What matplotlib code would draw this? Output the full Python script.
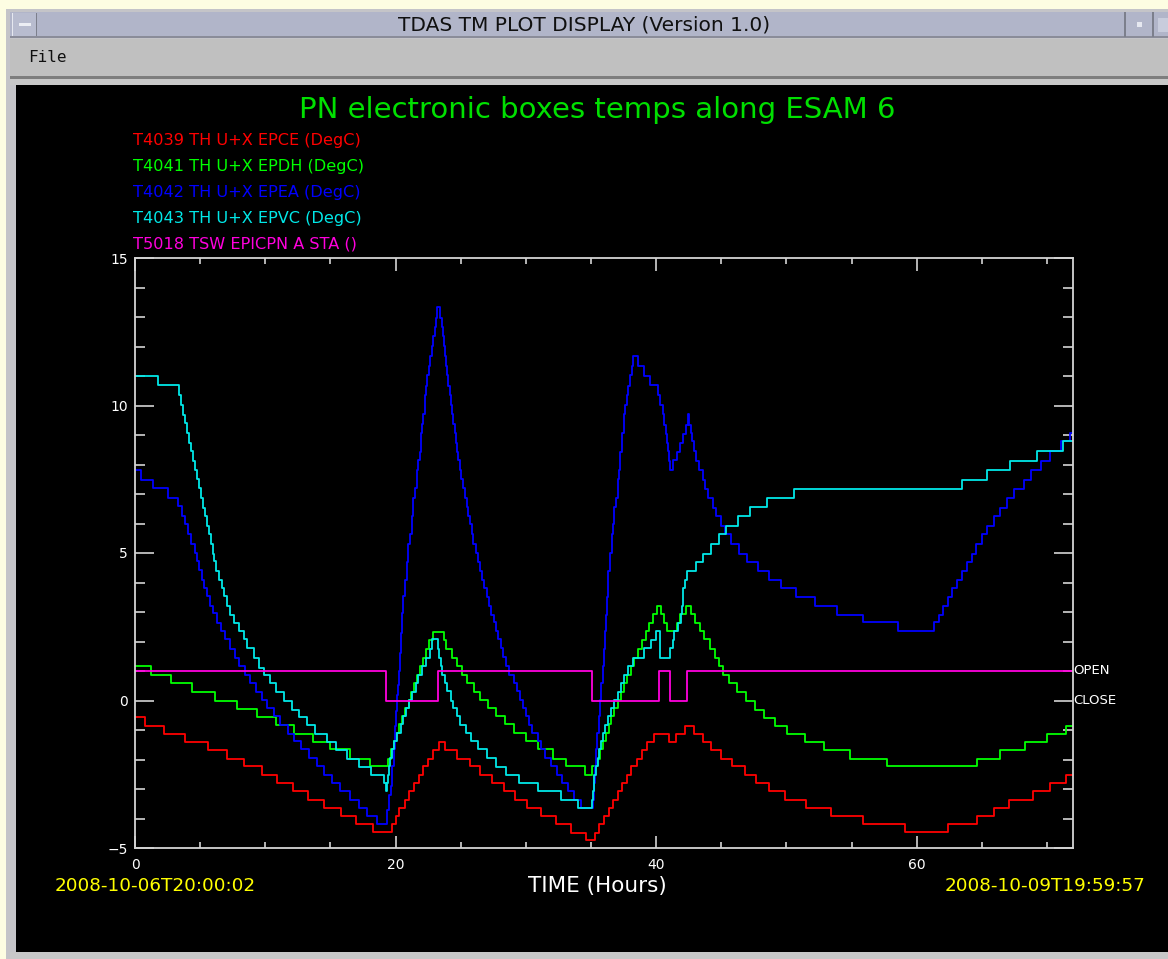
import matplotlib
matplotlib.use("Agg")
import matplotlib.pyplot as plt
from matplotlib.patches import Rectangle
from matplotlib.ticker import MultipleLocator

# ---------------- data (hours, degC) ----------------
red_t = [0, 0.8, 2.25, 3.85, 5.6, 7.05, 8.4, 9.75, 10.9, 12.1, 13.3, 14.5, 15.8, 17.0, 18.3,
         19.7, 20.0, 20.3, 20.7, 21.05, 21.4, 21.8, 22.1, 22.5, 22.9, 23.3,
         23.8, 24.7, 25.7, 26.5, 27.4, 28.3, 29.2, 30.1, 31.2, 32.3, 33.5, 34.6,
         35.3, 35.6, 36.0, 36.4, 36.7, 37.1, 37.4, 37.8, 38.1, 38.5, 38.9, 39.3, 39.8,
         40.97, 41.5, 42.2, 42.9, 43.6, 44.2, 45.0, 45.8, 46.8, 47.7, 48.7, 49.9, 51.5, 53.4, 55.9, 59.1,
         62.4, 64.6, 65.9, 67.05, 68.9, 70.2, 71.5, 72]
red_v = [-0.55, -0.85, -1.14, -1.39, -1.68, -1.98, -2.23, -2.51, -2.81, -3.06, -3.36, -3.65, -3.90, -4.18, -4.47,
         -4.20, -3.92, -3.65, -3.36, -3.06, -2.79, -2.52, -2.23, -1.97, -1.68, -1.40,
         -1.68, -1.97, -2.23, -2.52, -2.79, -3.06, -3.36, -3.65, -3.92, -4.20, -4.49, -4.72,
         -4.49, -4.20, -3.92, -3.65, -3.36, -3.06, -2.79, -2.52, -2.23, -1.97, -1.68, -1.40, -1.13,
         -1.40, -1.13, -0.85, -1.13, -1.40, -1.68, -1.98, -2.23, -2.53, -2.79, -3.07, -3.36, -3.64, -3.90, -4.18, -4.46,
         -4.18, -3.90, -3.64, -3.36, -3.07, -2.79, -2.53, -2.53]

green_t = [0, 1.2, 2.8, 4.35, 6.15, 7.8, 9.4, 10.8, 12.2, 13.7, 15.0, 16.5, 18.0,
           19.45, 19.65, 19.85, 20.05, 20.3, 20.5, 20.75, 21.0, 21.2, 21.4, 21.65, 21.85, 22.1, 22.35, 22.6, 22.9,
           23.7, 23.9, 24.3, 24.75, 25.1, 25.5, 26.0, 26.5, 27.1, 27.7, 28.4, 29.1, 30.0, 30.9, 32.05, 33.1, 34.55,
           35.1, 35.5, 35.7, 35.9, 36.15, 36.35, 36.5, 36.8, 37.1, 37.3, 37.5, 37.8, 38.1, 38.3, 38.6, 38.9,
           39.2, 39.45, 39.75, 40.05,
           40.35, 40.6, 40.85, 41.6, 41.85, 42.3,
           42.7, 43.0, 43.4, 43.7, 44.1, 44.5, 44.8, 45.1, 45.6, 46.2, 46.9, 47.6, 48.3, 49.1, 50.05, 51.4, 52.9,
           54.9, 57.7,
           64.6, 66.4, 68.3, 70.0, 71.5, 72]
green_v = [1.16, 0.88, 0.59, 0.29, 0.0, -0.28, -0.55, -0.84, -1.15, -1.39, -1.66, -1.97, -2.23,
           -1.97, -1.66, -1.38, -1.10, -0.81, -0.53, -0.25, 0.03, 0.28, 0.60, 0.88, 1.16, 1.45, 1.75, 2.04, 2.33,
           2.04, 1.75, 1.45, 1.16, 0.88, 0.60, 0.28, 0.03, -0.25, -0.53, -0.81, -1.10, -1.38, -1.66, -1.97, -2.23, -2.51,
           -2.23, -1.97, -1.66, -1.38, -1.10, -0.81, -0.53, -0.25, 0.03, 0.28, 0.60, 0.88, 1.16, 1.45, 1.75, 2.04,
           2.35, 2.63, 2.92, 3.20,
           2.92, 2.63, 2.35, 2.63, 2.92, 3.20,
           2.92, 2.63, 2.35, 2.07, 1.75, 1.45, 1.16, 0.88, 0.60, 0.28, -0.02, -0.31, -0.59, -0.87, -1.13, -1.40, -1.68,
           -1.98, -2.23,
           -1.98, -1.68, -1.40, -1.13, -0.87, -0.87]

blue_t = [0, 0.43, 1.4, 2.5, 3.33, 3.6, 3.85, 4.1, 4.3, 4.6, 4.74, 4.95, 5.13, 5.3, 5.5, 5.72, 5.97, 6.33,
          6.59, 6.92, 7.31, 7.69, 7.95, 8.46, 8.85, 9.31, 9.74, 10.13, 10.69, 11.15, 11.72, 12.18, 12.74,
          13.33, 13.97, 14.49, 15.13, 15.77, 16.49, 17.18, 17.82, 18.59,
          19.36, 19.49, 19.62, 19.74, 19.87, 19.92, 20.05, 20.13, 20.21, 20.26, 20.33, 20.44, 20.51, 20.59,
          20.69, 20.85, 20.97, 21.1, 21.23, 21.33, 21.46, 21.62, 21.72, 21.85, 21.92, 22.05, 22.13, 22.23,
          22.36, 22.44, 22.56, 22.64, 22.77, 22.87, 23.0, 23.1, 23.15,
          23.41, 23.54, 23.64, 23.72, 23.79, 23.9, 23.97, 24.05, 24.15, 24.23, 24.31, 24.44, 24.54, 24.67,
          24.74, 24.82, 24.95, 25.05, 25.21, 25.33, 25.46, 25.59, 25.72, 25.85, 25.97, 26.15, 26.33, 26.49,
          26.67, 26.8, 27.0, 27.15, 27.3, 27.56, 27.69, 27.87, 28.08, 28.28, 28.46, 28.72, 29.1, 29.3, 29.56,
          29.82, 30.0, 30.26, 30.5, 30.9, 31.15, 31.5, 31.9, 32.4, 32.8, 33.2, 33.7, 34.2,
          35.15, 35.22, 35.3, 35.4, 35.5, 35.6, 35.7, 35.8, 35.9, 36.0, 36.08, 36.16, 36.22, 36.28, 36.33,
          36.49, 36.62, 36.72, 36.8, 36.92, 37.05, 37.18, 37.26, 37.38, 37.51, 37.64, 37.77, 37.87, 37.97,
          38.13, 38.21,
          38.64, 39.1, 39.56, 40.13, 40.33, 40.51, 40.64, 40.77, 40.87, 40.95, 41.0, 41.08, 41.28, 41.62,
          41.8, 42.1, 42.3, 42.44,
          42.56, 42.65, 42.77, 42.9, 43.08, 43.33, 43.59, 43.77, 43.97, 44.36, 44.62, 45.0, 45.26, 45.72,
          46.33, 47.0, 47.82, 48.67, 49.62, 50.77, 52.18, 53.85, 55.9, 58.6,
          61.35, 61.74, 62.05, 62.38, 62.74, 63.08, 63.46, 63.85, 64.23, 64.56, 65.0, 65.38, 65.9, 66.41,
          66.92, 67.44, 68.21, 68.8, 69.56, 70.26, 71.1, 71.8, 72]
blue_v = [7.81, 7.49, 7.21, 6.87, 6.59, 6.27, 5.97, 5.63, 5.29, 5.00, 4.72, 4.41, 4.10, 3.82, 3.54, 3.22, 2.97, 2.63,
          2.35, 2.07, 1.73, 1.44, 1.16, 0.88, 0.60, 0.29, 0.03, -0.25, -0.53, -0.84, -1.12, -1.38, -1.66,
          -1.94, -2.23, -2.51, -2.79, -3.07, -3.36, -3.64, -3.92, -4.18,
          -3.70, -3.20, -2.90, -2.23, -1.66, -0.87, -0.36, 0.20, 0.54, 0.99, 1.62, 2.29, 2.97, 3.54,
          4.10, 4.69, 5.29, 5.63, 6.27, 6.87, 7.21, 7.81, 8.15, 8.43, 9.07, 9.38, 9.72, 10.34,
          10.66, 11.02, 11.33, 11.67, 12.01, 12.35, 12.65, 12.97, 13.34,
          12.97, 12.65, 12.35, 12.01, 11.67, 11.33, 11.02, 10.66, 10.34, 10.03, 9.72, 9.38, 9.07, 8.73,
          8.43, 8.15, 7.81, 7.51, 7.21, 6.87, 6.56, 6.27, 5.97, 5.63, 5.29, 5.00, 4.69, 4.38,
          4.10, 3.82, 3.51, 3.22, 2.91, 2.65, 2.35, 2.07, 1.78, 1.48, 1.16, 0.88, 0.60, 0.32, 0.03,
          -0.25, -0.53, -0.84, -1.10, -1.38, -1.66, -1.94, -2.23, -2.51, -2.79, -3.07, -3.36, -3.64,
          -3.36, -2.79, -2.23, -1.66, -1.10, -0.53, 0.03, 0.60, 1.16, 1.73, 2.35, 2.91, 3.51, 4.10, 4.38,
          5.00, 5.63, 5.97, 6.56, 6.87, 7.51, 7.81, 8.43, 9.07, 9.72, 10.03, 10.34, 10.66, 11.02,
          11.33, 11.67,
          11.33, 11.00, 10.69, 10.35, 10.01, 9.70, 9.35, 9.05, 8.73, 8.45, 8.11, 7.80, 8.15, 8.42,
          8.73, 9.05, 9.35, 9.70,
          9.35, 9.07, 8.79, 8.45, 8.11, 7.83, 7.49, 7.18, 6.87, 6.53, 6.25, 5.93, 5.63, 5.29,
          4.98, 4.70, 4.38, 4.10, 3.82, 3.51, 3.22, 2.91, 2.65, 2.35,
          2.65, 2.91, 3.22, 3.51, 3.82, 4.10, 4.38, 4.70, 4.98, 5.29, 5.63, 5.93, 6.25, 6.53,
          6.87, 7.18, 7.49, 7.83, 8.11, 8.45, 8.79, 9.07, 9.07]

cyan_t = [0, 1.8, 3.38, 3.55, 3.7, 3.85, 4.0, 4.15, 4.3, 4.45, 4.6, 4.75, 4.9, 5.05, 5.2, 5.35, 5.5, 5.65,
          5.8, 5.95, 6.1, 6.25, 6.45, 6.65, 6.85, 7.05, 7.3, 7.62, 7.95, 8.33, 8.59, 9.15, 9.54, 9.87,
          10.38, 10.85, 11.41, 12.05, 12.56, 13.2, 13.85, 14.74, 15.46, 16.28, 17.18, 18.08, 19.1, 19.25,
          19.35, 19.42, 19.49, 19.6, 19.74, 19.9, 20.08, 20.38, 20.59, 20.77, 21.03, 21.28, 21.54, 21.72,
          22.05, 22.31, 22.64, 22.82,
          23.26, 23.33, 23.46, 23.59, 23.77, 23.97, 24.23, 24.44, 24.69, 24.95, 25.38, 25.77, 26.33, 27.0,
          27.7, 28.46, 29.5, 30.9, 32.7, 33.97,
          35.05, 35.12, 35.2, 35.26, 35.4, 35.51, 35.65, 35.77, 35.92, 36.08, 36.3, 36.54, 36.8, 37.05,
          37.3, 37.56, 37.82, 38.2,
          39.1, 39.6, 40.0, 40.3, 41.1, 41.3, 41.4, 41.7, 41.9, 42.0, 42.05, 42.1, 42.2, 42.4, 43.08,
          43.6, 44.2, 44.8, 45.4, 46.3, 47.2, 48.5, 50.6,
          63.46, 65.4, 67.2, 69.2, 71.2, 72]
cyan_v = [10.99, 10.71, 10.37, 10.03, 9.69, 9.41, 9.07, 8.73, 8.45, 8.11, 7.83, 7.51, 7.21, 6.87, 6.53, 6.25, 5.91, 5.63,
          5.29, 4.98, 4.72, 4.38, 4.10, 3.82, 3.54, 3.22, 2.91, 2.63, 2.35, 2.07, 1.79, 1.44, 1.10, 0.85,
          0.58, 0.28, 0.00, -0.31, -0.57, -0.84, -1.15, -1.39, -1.68, -1.97, -2.25, -2.54, -2.81, -3.07,
          -2.81, -2.51, -2.23, -1.94, -1.66, -1.38, -1.10, -0.81, -0.53, -0.25, 0.03, 0.28, 0.60, 0.88,
          1.16, 1.45, 1.75, 2.07,
          1.75, 1.45, 1.16, 0.88, 0.60, 0.32, -0.02, -0.25, -0.53, -0.84, -1.10, -1.38, -1.66, -1.94,
          -2.25, -2.51, -2.79, -3.07, -3.36, -3.64,
          -3.36, -3.07, -2.79, -2.51, -2.23, -1.94, -1.66, -1.38, -1.10, -0.84, -0.53, -0.25, 0.03, 0.28,
          0.60, 0.88, 1.16, 1.45,
          1.79, 2.05, 2.35, 1.45, 1.79, 2.05, 2.35, 2.63, 2.92, 3.20, 3.54, 3.82, 4.10, 4.38, 4.70,
          4.98, 5.29, 5.63, 5.91, 6.25, 6.55, 6.87, 7.18,
          7.49, 7.83, 8.11, 8.45, 8.79, 8.79]

# EPIC-pn status (1 = OPEN, 0 = CLOSE)
status_t = [0, 19.25, 23.25, 35.05, 40.2, 41.1, 42.4, 72]
status_v = [1, 0, 1, 0, 1, 0, 1, 1]

legend_labels = ["T4039 TH U+X EPCE (DegC)", "T4041 TH U+X EPDH (DegC)",
                 "T4042 TH U+X EPEA (DegC)", "T4043 TH U+X EPVC (DegC)",
                 "T5018 TSW EPICPN A STA ()"]
x_ticks = [0, 20, 40, 60]
y_ticks = [-5, 0, 5, 10, 15]
status_labels = ["OPEN", "CLOSE"]

RED, GREEN, BLUE, CYAN, MAG = "#ff0000", "#00ff00", "#0000ff", "#00e8e8", "#ff00dd"

# ---------------- figure & window chrome ----------------
W, H = 1168, 959
fig = plt.figure(figsize=(W / 100, H / 100), dpi=100)
fig.patch.set_facecolor("#fdfde2")


def rect(x0, y0, x1, y1, color, z=0):
    fig.add_artist(Rectangle((x0 / W, 1 - y1 / H), (x1 - x0) / W, (y1 - y0) / H,
                             transform=fig.transFigure, facecolor=color,
                             edgecolor="none", zorder=z))


def ftext(x, y, s, **kw):
    fig.text(x / W, 1 - y / H, s, **kw)


rect(6, 9, W, H, "#c4c4c8")            # window frame
rect(10, 12, W, 37, "#b1b5c9")         # title bar
rect(10, 36, W, 38, "#8a8c99")
rect(12, 13, 37, 36, "#b8bccf")        # left button
rect(12, 13, 13, 36, "#e6e8f0")
rect(36, 13, 37, 36, "#7c7f8c")
rect(19, 23, 31, 26, "#eceef4")
rect(1124, 12, 1126, 37, "#7c7f8c")
rect(1137, 22, 1142, 27, "#e6e8f0")
rect(1152, 12, 1154, 37, "#7c7f8c")
rect(1158, 18, W, 32, "#c8ccdc")
rect(10, 39, W, 76, "#c0c0c0")         # menu bar
rect(10, 76, W, 79, "#7e7e7e")
rect(10, 79, W, 85, "#c8c8c8")
rect(16, 85, W, 952, "#000000")        # plot canvas
rect(10, 952, W, 959, "#c8c8c8")

ftext(584, 25, "TDAS TM PLOT DISPLAY (Version 1.0)", ha="center", va="center",
      fontsize=14.5, color="#101010")
ftext(28, 58, "File", ha="left", va="center", fontsize=11.5, color="#101010",
      family="DejaVu Sans Mono")

# ---------------- plot ----------------
ax = fig.add_axes([135 / W, 1 - 848 / H, (1073 - 135) / W, (848 - 258) / H], zorder=5)
ax.set_facecolor("#000000")

lw = 1.3
ax.step(red_t, red_v, where="post", color=RED, lw=lw)
ax.step(green_t, green_v, where="post", color=GREEN, lw=lw)
ax.step(blue_t, blue_v, where="post", color=BLUE, lw=lw)
ax.step(cyan_t, cyan_v, where="post", color=CYAN, lw=lw)
ax.step(status_t, status_v, where="post", color=MAG, lw=lw)

ax.set_xlim(0, 72)
ax.set_ylim(-5, 15)
ax.set_xticks(x_ticks)
ax.set_yticks(y_ticks)
ax.xaxis.set_minor_locator(MultipleLocator(5))
ax.yaxis.set_minor_locator(MultipleLocator(1))
axc = "#d4d4d4"
for sp in ax.spines.values():
    sp.set_color(axc)
    sp.set_linewidth(1.3)
ax.tick_params(which="both", direction="in", top=True, right=True, color=axc,
               labelcolor="white", width=1.2)
ax.tick_params(axis="y", which="major", length=14, labelsize=10, pad=5)
ax.tick_params(axis="y", which="minor", length=7)
ax.tick_params(axis="x", which="major", length=9, labelsize=10, pad=7)
ax.tick_params(axis="x", which="minor", length=4.5)

for val, lab in zip([1, 0], status_labels):
    ax.text(72.05, val, lab, ha="left", va="center", color="white", fontsize=9.5,
            clip_on=False)

# ---------------- texts ----------------
ftext(597, 110, "PN electronic boxes temps along ESAM 6", ha="center", va="center",
      fontsize=21, color="#00e000")
for i, (lab, col) in enumerate(zip(legend_labels, [RED, GREEN, BLUE, CYAN, MAG])):
    ftext(133, 140 + 26 * i, lab, ha="left", va="center", fontsize=11.6, color=col)

ftext(597, 886, "TIME (Hours)", ha="center", va="center", fontsize=15.5, color="white")
ftext(55, 886, "2008-10-06T20:00:02", ha="left", va="center", fontsize=13.2, color="#ffff00")
ftext(1145, 886, "2008-10-09T19:59:57", ha="right", va="center", fontsize=13.2, color="#ffff00")

fig.savefig("out.png", dpi=100, facecolor=fig.get_facecolor())
